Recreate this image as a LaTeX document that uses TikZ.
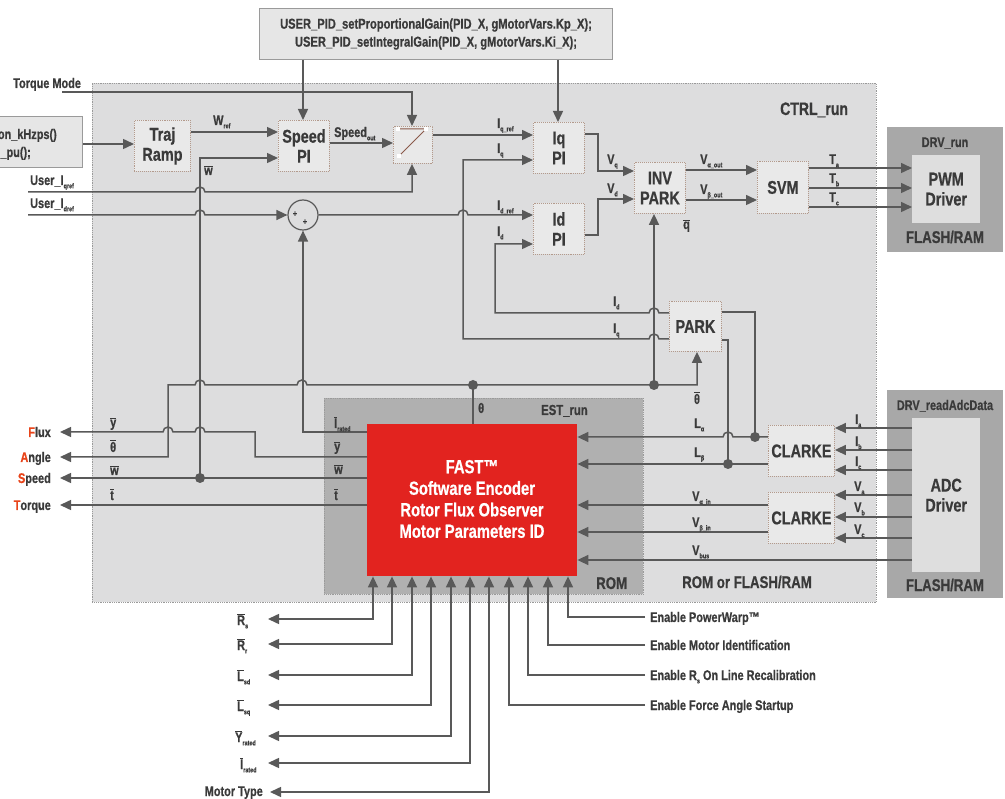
\documentclass[tikz,border=0pt]{standalone}
\usepackage{fontspec}
\setmainfont{Liberation Sans}[FakeStretch=0.78,FakeBold=0.6]
\usetikzlibrary{arrows.meta,calc}
\definecolor{lncol}{HTML}{595959}
\definecolor{tx}{HTML}{3A3A3A}
\definecolor{ctrlbg}{HTML}{DDDDDE}
\definecolor{ctrlb}{HTML}{9A9A9A}
\definecolor{blk}{HTML}{E9E9E9}
\definecolor{blkb}{HTML}{B39A8C}
\definecolor{drv}{HTML}{A8A8A8}
\definecolor{drvin}{HTML}{DEDEDE}
\definecolor{estbg}{HTML}{B0B0B0}
\definecolor{codebg}{HTML}{E6E6E6}
\definecolor{fastred}{HTML}{E2231F}
\definecolor{hl}{HTML}{E8441A}
\definecolor{swc}{HTML}{8A5A4A}
\newcommand{\ob}[1]{\ensuremath{\overline{\mbox{#1}}}}
\newcommand{\sbs}[1]{\raisebox{-0.45ex}{\fontsize{7}{7}\selectfont #1}}
\newcommand{\fb}{\fontsize{18.5}{20}\selectfont}
\newcommand{\fs}{\fontsize{14}{16}\selectfont}
\newcommand{\fm}{\fontsize{17}{19}\selectfont}
\begin{document}
\begin{tikzpicture}[x=1pt,y=-1pt,
  every node/.style={text=tx},
  ln/.style={draw=lncol, line width=1.5pt},
  arr/.style={ln, -{Triangle[length=11pt,width=10pt]}},
  arrb/.style={ln, {Triangle[length=11pt,width=10pt]}-{Triangle[length=11pt,width=10pt]}},
  blockbox/.style={draw=blkb, densely dotted, line width=0.9pt, fill=blk, anchor=north west, inner sep=0pt, align=center, font=\bfseries\fb},
  codebox/.style={draw=ctrlb, line width=1pt, fill=codebg, anchor=north west, inner sep=0pt},
  lbl/.style={font=\bfseries\fs, inner sep=0pt, anchor=base west},
  jdot/.style={circle, fill=lncol, inner sep=0pt, minimum size=10pt},
]
\useasboundingbox (0,0) rectangle (1005,799);

% ---------- containers ----------
\node[draw=ctrlb, densely dotted, fill=ctrlbg, anchor=north west, minimum width=784pt, minimum height=519pt, inner sep=0pt, line width=0.8pt] (ctrl) at (92,83) {};
\node[draw=ctrlb, densely dotted, fill=estbg, anchor=north west, minimum width=319pt, minimum height=196pt, inner sep=0pt, line width=0.8pt] (est) at (324,398) {};
\node[fill=drv, anchor=north west, minimum width=116pt, minimum height=125pt, inner sep=0pt] (drvrun) at (887,127) {};
\node[fill=drvin, anchor=north west, minimum width=68pt, minimum height=68pt, inner sep=0pt, align=center, font=\bfseries\fb] (pwm) at (912,155) {PWM\\Driver};
\node[fill=drv, anchor=north west, minimum width=116pt, minimum height=208pt, inner sep=0pt] (drvadc) at (887,390) {};
\node[fill=drvin, anchor=north west, minimum width=68pt, minimum height=154pt, inner sep=0pt, align=center, font=\bfseries\fb] (adc) at (912,418) {ADC\\Driver};

% ---------- code boxes ----------
\node[codebox, minimum width=353pt, minimum height=51pt, align=center, font=\bfseries\fontsize{14.3}{18}\selectfont] (pid) at (259,8)
  {USER\_PID\_setProportionalGain(PID\_X, gMotorVars.Kp\_X);\\USER\_PID\_setIntegralGain(PID\_X, gMotorVars.Ki\_X);};
\node[codebox, minimum width=100pt, minimum height=51pt] (kbox) at (-18,116) {};
\node[lbl, anchor=base east] (ktxt1) at (57,139) {on\_kHzps()};
\node[lbl, anchor=base east] (ktxt2) at (31,157) {\_pu();};

% ---------- blocks ----------
\node[blockbox, minimum width=56pt, minimum height=51pt] (traj) at (134,120) {Traj\\Ramp};
\node[blockbox, minimum width=51pt, minimum height=51pt] (spi) at (278,120) {Speed\\PI};
\node[blockbox, minimum width=39pt, minimum height=37pt] (sw) at (393,126) {};
\node[blockbox, minimum width=51pt, minimum height=51pt] (iqpi) at (533,122) {Iq\\PI};
\node[blockbox, minimum width=51pt, minimum height=51pt] (idpi) at (533,203) {Id\\PI};
\node[blockbox, minimum width=51pt, minimum height=51pt] (invpark) at (634,162) {INV\\PARK};
\node[blockbox, minimum width=51pt, minimum height=52pt] (svm) at (757,161) {SVM};
\node[blockbox, minimum width=52pt, minimum height=50pt] (park) at (669,301) {PARK};
\node[blockbox, minimum width=66pt, minimum height=51pt] (clarke1) at (768,425) {CLARKE};
\node[blockbox, minimum width=66pt, minimum height=51pt] (clarke2) at (768,492) {CLARKE};
\node[circle, draw=lncol, line width=1.2pt, minimum size=30pt, inner sep=0pt] (sum) at (303,215) {};
\node[font=\bfseries\fontsize{9}{9}\selectfont, inner sep=0pt] (sp1) at (295,214) {+};
\node[font=\bfseries\fontsize{9}{9}\selectfont, inner sep=0pt] (sp2) at (305,222) {+};

% switch symbol
\draw[draw=swc, line width=1pt] (398,129) -- (426,129) -- (399,156);
\foreach \p in {(398,129),(426,129),(399,156)} \fill[white] \p ++(-2,-2) rectangle ++(4,4);

% FAST
\node[fill=fastred, anchor=north west, minimum width=210pt, minimum height=152pt, inner sep=0pt] (fast) at (367,424) {};
\node[text=white, font=\bfseries\fontsize{19}{21.5}\selectfont, align=center, inner sep=0pt] (fasttxt) at (472,499)
  {FAST™\\Software Encoder\\Rotor Flux Observer\\Motor Parameters ID};

% ---------- region labels ----------
\node[font=\bfseries\fontsize{18}{20}\selectfont, anchor=base west, inner sep=0pt] (lctrl) at (780,115) {CTRL\_run};
\node[font=\bfseries\fontsize{14}{16}\selectfont, anchor=base, inner sep=0pt] (ldrv) at (945,147) {DRV\_run};
\node[font=\bfseries\fm, anchor=base, inner sep=0pt] (lfr1) at (945,243) {FLASH/RAM};
\node[font=\bfseries\fontsize{14}{16}\selectfont, anchor=base, inner sep=0pt] (ladc) at (945,410) {DRV\_readAdcData};
\node[font=\bfseries\fm, anchor=base, inner sep=0pt] (lfr2) at (945,591) {FLASH/RAM};
\node[font=\bfseries\fontsize{14.5}{16}\selectfont, anchor=base west, inner sep=0pt] (lest) at (541,415) {EST\_run};
\node[font=\bfseries\fm, anchor=base west, inner sep=0pt] (lrom) at (596,589) {ROM};
\node[font=\bfseries\fm, anchor=base west, inner sep=0pt] (lromf) at (682,588) {ROM or FLASH/RAM};

% ---------- top section connectors ----------
\node[lbl] (ltm) at (13,88) {Torque Mode};
\draw[arr] (62,92) -- (412,92) -- (412,0 |- sw.north);
\draw[arr] (303,0 |- pid.south) -- (303,0 |- spi.north);
\draw[arr] (558,0 |- pid.south) -- (558,0 |- iqpi.north);
\draw[arr] (kbox.east |- 0,144) -- (traj.west |- 0,144);
\draw[arr] (traj.east |- 0,132) -- (spi.west |- 0,132);
\node[lbl] (lwref) at (213,125) {W\sbs{ref}};
\draw[arr] (spi.east |- 0,143) -- (sw.west |- 0,143);
\node[lbl] (lspo) at (334,137) {Speed\sbs{out}};
\draw[arr] (200,478) -- (200,158) -- (spi.west |- 0,158);
\node[lbl] (lwb) at (204,175) {\ob{w}};

\node[lbl] (luq) at (30,185) {User\_I\sbs{qref}};
\node[lbl] (lud) at (30,208) {User\_I\sbs{dref}};
\draw[arr] (28,192) -- (195,192) arc[start angle=180,end angle=360,radius=5] -- (412,192) -- (412,0 |- sw.south);
\draw[arr] (28,215) -- (195,215) arc[start angle=180,end angle=360,radius=5] -- (sum.west);

\draw[arr] (sw.east |- 0,135) -- (iqpi.west |- 0,135);
\node[lbl] (liqr) at (497,128) {I\sbs{q\_ref}};
\node[lbl] (liq) at (497,153) {I\sbs{q}};
\draw[arr] (park.west |- 0,339) -- (659,339) arc[start angle=0,end angle=-180,radius=5] -- (463,339) -- (463,160) -- (iqpi.west |- 0,160);
\draw[arr] (sum.east) -- (458,215) arc[start angle=180,end angle=360,radius=5] -- (idpi.west |- 0,215);
\node[lbl] (lidr) at (497,210) {I\sbs{d\_ref}};
\node[lbl] (lid) at (497,236) {I\sbs{d}};
\draw[arr] (park.west |- 0,313) -- (659,313) arc[start angle=0,end angle=-180,radius=5] -- (495,313) -- (495,244) -- (idpi.west |- 0,244);
\node[lbl] (lid2) at (613,306) {I\sbs{d}};
\node[lbl] (liq2) at (613,333) {I\sbs{q}};

\draw[arr] (iqpi.east |- 0,134) -- (598,134) -- (598,171) -- (invpark.west |- 0,171);
\draw[arr] (idpi.east |- 0,235) -- (598,235) -- (598,199) -- (invpark.west |- 0,199);
\node[lbl] (lvq) at (607,164) {V\sbs{q}};
\node[lbl] (lvd) at (607,193) {V\sbs{d}};

\draw[arr] (invpark.east |- 0,170) -- (svm.west |- 0,170);
\draw[arr] (invpark.east |- 0,200) -- (svm.west |- 0,200);
\node[lbl] (lva) at (700,164) {V\sbs{α\_out}};
\node[lbl] (lvb) at (700,194) {V\sbs{β\_out}};
\node[lbl] (lqb) at (683,229) {\ob{q}};

\draw[arr] (svm.east |- 0,168) -- (pwm.west |- 0,168);
\draw[arr] (svm.east |- 0,188) -- (pwm.west |- 0,188);
\draw[arr] (svm.east |- 0,207) -- (pwm.west |- 0,207);
\node[lbl] (lta) at (829,164) {T\sbs{a}};
\node[lbl] (ltb) at (829,183) {T\sbs{b}};
\node[lbl] (ltc) at (829,202) {T\sbs{c}};

% ---------- angle / estimator section ----------
\draw[arrb] (60,457) -- (168,457) -- (168,385) -- (195,385) arc[start angle=180,end angle=360,radius=5] -- (297,385) arc[start angle=180,end angle=360,radius=5] -- (697,385) -- (697,0 |- park.south);
\draw[ln] (473,385) -- (473,0 |- fast.north);
\draw[arr] (654,385) -- (654,0 |- invpark.south);
\node[jdot] (d1) at (473,385) {};
\node[jdot] (d2) at (654,385) {};
\node[lbl] (lth) at (478,413) {θ};
\node[lbl, anchor=base] (lthb) at (697,404) {\ob{θ}};

\draw[arr] (fast.west |- 0,432) -- (303,432) -- (sum.south);
\draw[arr] (fast.west |- 0,457) -- (255,457) -- (255,432) -- (205,432) arc[start angle=0,end angle=-180,radius=5] -- (173,432) arc[start angle=0,end angle=-180,radius=5] -- (60,432);
\draw[arr] (fast.west |- 0,478) -- (60,478);
\draw[arr] (fast.west |- 0,505) -- (60,505);
\node[jdot] (d3) at (200,478) {};

\node[lbl, anchor=base east] (lflux) at (51,437) {{\color{hl}F}lux};
\node[lbl, anchor=base east] (langle) at (51,462) {{\color{hl}A}ngle};
\node[lbl, anchor=base east] (lspeed) at (51,483) {{\color{hl}S}peed};
\node[lbl, anchor=base east] (ltorque) at (51,510) {{\color{hl}T}orque};
\node[lbl] (ly1) at (110,427) {\ob{y}};
\node[lbl] (lt1) at (110,452) {\ob{θ}};
\node[lbl] (lw1) at (110,475) {\ob{w}};
\node[lbl] (ltq1) at (110,500) {\ob{t}};
\node[lbl] (lir) at (334,428) {\ob{I}\sbs{rated}};
\node[lbl] (ly2) at (334,451) {\ob{y}};
\node[lbl] (lw2) at (334,474) {\ob{w}};
\node[lbl] (ltq2) at (334,500) {\ob{t}};

% right side inputs
\draw[ln] (park.east |- 0,312) -- (755,312) -- (755,437);
\draw[ln] (park.east |- 0,340) -- (728,340) -- (728,464);
\draw[arr] (clarke1.west |- 0,437) -- (733,437) arc[start angle=0,end angle=-180,radius=5] -- (fast.east |- 0,437);
\draw[arr] (clarke1.west |- 0,464) -- (fast.east |- 0,464);
\node[jdot] (d4) at (755,437) {};
\node[jdot] (d5) at (728,464) {};
\draw[arr] (clarke2.west |- 0,505) -- (fast.east |- 0,505);
\draw[arr] (clarke2.west |- 0,532) -- (fast.east |- 0,532);
\draw[arr] (adc.west |- 0,560) -- (fast.east |- 0,560);
\node[lbl] (lla) at (694,428) {L\sbs{α}};
\node[lbl] (llb) at (694,457) {L\sbs{β}};
\node[lbl] (lvai) at (692,501) {V\sbs{α\_in}};
\node[lbl] (lvbi) at (692,527) {V\sbs{β\_in}};
\node[lbl] (lvbus) at (692,555) {V\sbs{bus}};

\foreach \y in {428,450,470} \draw[arr] (adc.west |- 0,\y) -- (clarke1.east |- 0,\y);
\foreach \y in {495,517,538} \draw[arr] (adc.west |- 0,\y) -- (clarke2.east |- 0,\y);
\node[lbl] (lia) at (855,424) {I\sbs{a}};
\node[lbl] (lib) at (855,446) {I\sbs{b}};
\node[lbl] (lic) at (855,466) {I\sbs{c}};
\node[lbl] (lvaa) at (854,491) {V\sbs{a}};
\node[lbl] (lvbb) at (854,512) {V\sbs{b}};
\node[lbl] (lvcc) at (854,534) {V\sbs{c}};

% ---------- bottom section ----------
\draw[arrb] (268,619) -- (373,619) -- (373,0 |- fast.south);
\draw[arrb] (268,644) -- (392,644) -- (392,0 |- fast.south);
\draw[arrb] (268,675) -- (412,675) -- (412,0 |- fast.south);
\draw[arrb] (268,705) -- (431,705) -- (431,0 |- fast.south);
\draw[arrb] (268,736) -- (451,736) -- (451,0 |- fast.south);
\draw[arrb] (268,763) -- (470,763) -- (470,0 |- fast.south);
\draw[arrb] (270,792) -- (489,792) -- (489,0 |- fast.south);
\node[lbl] (lrs) at (237,625) {\ob{R}\sbs{s}};
\node[lbl] (lrr) at (237,650) {\ob{R}\sbs{r}};
\node[lbl] (llsd) at (237,681) {\ob{L}\sbs{sd}};
\node[lbl] (llsq) at (237,711) {\ob{L}\sbs{sq}};
\node[lbl] (lyr) at (235,742) {\ob{Y}\sbs{rated}};
\node[lbl] (lirr) at (240,769) {\ob{I}\sbs{rated}};
\node[lbl, anchor=base east] (lmt) at (263,796) {Motor Type};

\draw[arr] (645,617) -- (568,617) -- (568,0 |- fast.south);
\draw[arr] (645,645) -- (548,645) -- (548,0 |- fast.south);
\draw[arr] (645,675) -- (528,675) -- (528,0 |- fast.south);
\draw[arr] (645,705) -- (509,705) -- (509,0 |- fast.south);
\node[lbl] (le1) at (650,622) {Enable PowerWarp™};
\node[lbl] (le2) at (650,650) {Enable Motor Identification};
\node[lbl] (le3) at (650,680) {Enable R\sbs{s} On Line Recalibration};
\node[lbl] (le4) at (650,710) {Enable Force Angle Startup};
\end{tikzpicture}
\end{document}
